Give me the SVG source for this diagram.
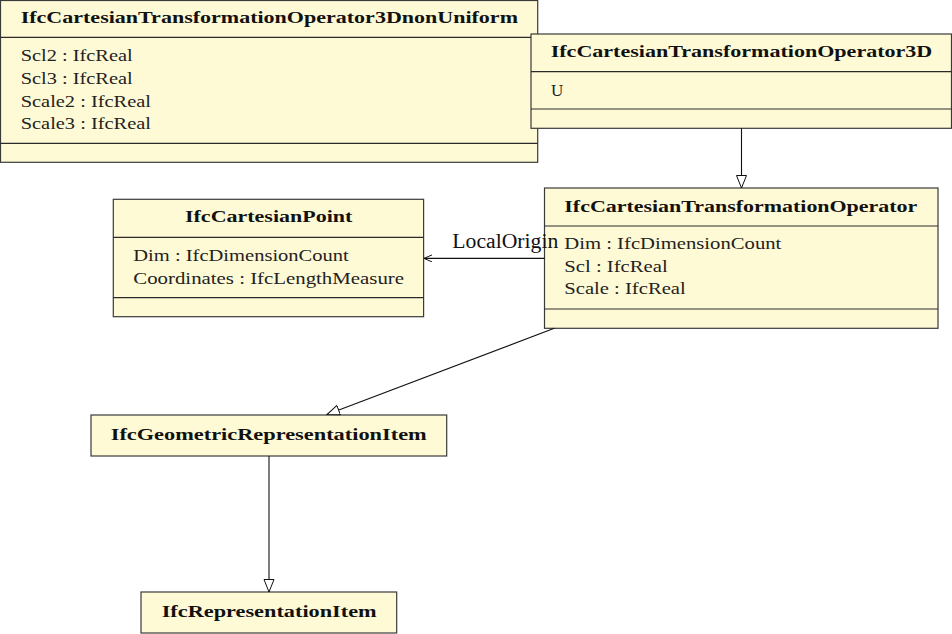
<svg xmlns="http://www.w3.org/2000/svg" width="952" height="634" viewBox="0 0 952 634">
<defs>
<style>
.box{fill:#fffad6;stroke:#3a3a3a;stroke-width:1.2}
.sep{stroke:#2a2a2a;stroke-width:1.2}
.t{font-family:"Liberation Serif","DejaVu Serif",serif;font-size:17.5px;font-weight:bold;fill:#111}
.a{font-family:"Liberation Serif","DejaVu Serif",serif;font-size:17px;fill:#222}
.lbl{font-family:"Liberation Serif","DejaVu Serif",serif;font-size:20px;fill:#111}
.edge{fill:none;stroke:#111;stroke-width:1.1}
</style>
<marker id="gen" markerUnits="userSpaceOnUse" markerWidth="14" markerHeight="12" refX="13" refY="5.5" orient="auto" viewBox="0 0 14 12">
<path d="M0.5,0.5 L13,5.5 L0.5,10.5 Z" fill="#fff" stroke="#111" stroke-width="1"/>
</marker>
<marker id="open" markerUnits="userSpaceOnUse" markerWidth="10" markerHeight="8" refX="9" refY="4" orient="auto" viewBox="0 0 10 8">
<path d="M1,0.5 L9,4 L1,7.5" fill="none" stroke="#111" stroke-width="1"/>
</marker>
</defs>

<g id="IfcCartesianTransformationOperator3DnonUniform">
<rect class="box" x="0.5" y="0.5" width="537.2" height="161.8"/>
<line class="sep" x1="0.5" y1="37.3" x2="537.7" y2="37.3"/>
<line class="sep" x1="0.5" y1="143.3" x2="537.7" y2="143.3"/>
<text class="t" x="20.7" y="23" textLength="497.3" lengthAdjust="spacingAndGlyphs">IfcCartesianTransformationOperator3DnonUniform</text>
<text class="a" x="20.7" y="61" textLength="112" lengthAdjust="spacingAndGlyphs">Scl2 : IfcReal</text>
<text class="a" x="20.7" y="84" textLength="112" lengthAdjust="spacingAndGlyphs">Scl3 : IfcReal</text>
<text class="a" x="20.7" y="106.7" textLength="130.3" lengthAdjust="spacingAndGlyphs">Scale2 : IfcReal</text>
<text class="a" x="20.7" y="129.3" textLength="130.3" lengthAdjust="spacingAndGlyphs">Scale3 : IfcReal</text>
</g>

<g id="IfcCartesianTransformationOperator3D">
<rect class="box" x="531" y="34" width="420.5" height="94.3"/>
<line class="sep" x1="531" y1="71.7" x2="951.5" y2="71.7"/>
<line class="sep" x1="531" y1="109" x2="951.5" y2="109"/>
<text class="t" x="550.7" y="57.3" textLength="381.6" lengthAdjust="spacingAndGlyphs">IfcCartesianTransformationOperator3D</text>
<text class="a" x="551" y="95.7">U</text>
</g>

<g id="IfcCartesianTransformationOperator">
<rect class="box" x="544.5" y="188" width="393.5" height="140.3"/>
<line class="sep" x1="544.5" y1="226" x2="938" y2="226"/>
<line class="sep" x1="544.5" y1="309" x2="938" y2="309"/>
<text class="t" x="564.3" y="211.7" textLength="353" lengthAdjust="spacingAndGlyphs">IfcCartesianTransformationOperator</text>
<text class="a" x="564.3" y="249" textLength="217" lengthAdjust="spacingAndGlyphs">Dim : IfcDimensionCount</text>
<text class="a" x="564.3" y="271.7" textLength="103.4" lengthAdjust="spacingAndGlyphs">Scl : IfcReal</text>
<text class="a" x="564.3" y="294.3" textLength="121.4" lengthAdjust="spacingAndGlyphs">Scale : IfcReal</text>
</g>

<g id="IfcCartesianPoint">
<rect class="box" x="113.3" y="199.3" width="310.3" height="117.4"/>
<line class="sep" x1="113.3" y1="237.3" x2="423.6" y2="237.3"/>
<line class="sep" x1="113.3" y1="297.7" x2="423.6" y2="297.7"/>
<text class="t" x="185" y="222.3" textLength="167.3" lengthAdjust="spacingAndGlyphs">IfcCartesianPoint</text>
<text class="a" x="133.3" y="261" textLength="215.5" lengthAdjust="spacingAndGlyphs">Dim : IfcDimensionCount</text>
<text class="a" x="133.3" y="284.3" textLength="270.7" lengthAdjust="spacingAndGlyphs">Coordinates : IfcLengthMeasure</text>
</g>

<g id="IfcGeometricRepresentationItem">
<rect class="box" x="91" y="415" width="355.7" height="41"/>
<text class="t" x="110.7" y="440" textLength="316" lengthAdjust="spacingAndGlyphs">IfcGeometricRepresentationItem</text>
</g>

<g id="IfcRepresentationItem">
<rect class="box" x="141" y="592" width="255.7" height="41"/>
<text class="t" x="161.7" y="616.7" textLength="215" lengthAdjust="spacingAndGlyphs">IfcRepresentationItem</text>
</g>

<g id="connectors">
<path class="edge" d="M741.5,128.3 V188" marker-end="url(#gen)"/>
<path class="edge" d="M554.3,328.3 L327,414.6" marker-end="url(#gen)"/>
<path class="edge" d="M269,456 V592" marker-end="url(#gen)"/>
<path class="edge" d="M544.5,258.4 H424" marker-end="url(#open)"/>
<text class="lbl" x="452.3" y="247.7" textLength="106" lengthAdjust="spacingAndGlyphs">LocalOrigin</text>
</g>
</svg>
